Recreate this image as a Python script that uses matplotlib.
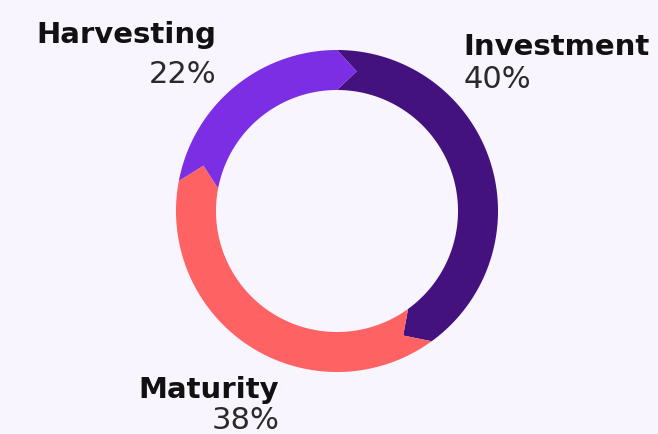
import numpy as np
import matplotlib
matplotlib.use("Agg")
import matplotlib.pyplot as plt
from matplotlib.patches import Polygon

# Data
categories = ["Investment", "Maturity", "Harvesting"]
values = [40, 38, 22]
colors = ["#43127f", "#ff6262", "#7b2ee3"]

BG = "#f8f5ff"
W, H = 658, 434
fig = plt.figure(figsize=(W / 100, H / 100), dpi=100, facecolor=BG)
ax = fig.add_axes([0, 0, 1, 1])
ax.set_xlim(0, W)
ax.set_ylim(H, 0)
ax.set_aspect("equal")
ax.axis("off")
ax.set_facecolor(BG)

cx, cy = 337, 211
r_out, r_in = 161, 121
r_mid = (r_out + r_in) / 2
tip = np.deg2rad(8)


def pt(r, a):
    return cx + r * np.sin(a), cy - r * np.cos(a)


total = sum(values)
cum = np.cumsum([0] + values) / total * 2 * np.pi
for i, (v, c) in enumerate(zip(values, colors)):
    a0, a1 = cum[i], cum[i + 1]
    arc = np.linspace(a0, a1, 200)
    pts = []
    pts.append(pt(r_mid, a0 + tip))          # notch at start
    pts += [pt(r_out, a) for a in arc]
    pts.append(pt(r_mid, a1 + tip))          # arrow tip at end
    pts += [pt(r_in, a) for a in arc[::-1]]
    ax.add_patch(Polygon(pts, closed=True, facecolor=c, edgecolor="none", antialiased=True))

name_font = dict(family=["DejaVu Sans"], fontweight="bold", fontsize=21, color="#111111")
pct_font = dict(family=["DejaVu Sans"], fontweight="normal", fontsize=22, color="#2a2a2a")

ax.text(463, 55, categories[0], ha="left", va="baseline", **name_font)
ax.text(464, 88, f"{values[0]}%", ha="left", va="baseline", **pct_font)
ax.text(279, 398, categories[1], ha="right", va="baseline", **name_font)
ax.text(279, 429, f"{values[1]}%", ha="right", va="baseline", **pct_font)
ax.text(216, 43, categories[2], ha="right", va="baseline", **name_font)
ax.text(216, 83, f"{values[2]}%", ha="right", va="baseline", **pct_font)

fig.savefig("out.png", dpi=100, facecolor=BG)
